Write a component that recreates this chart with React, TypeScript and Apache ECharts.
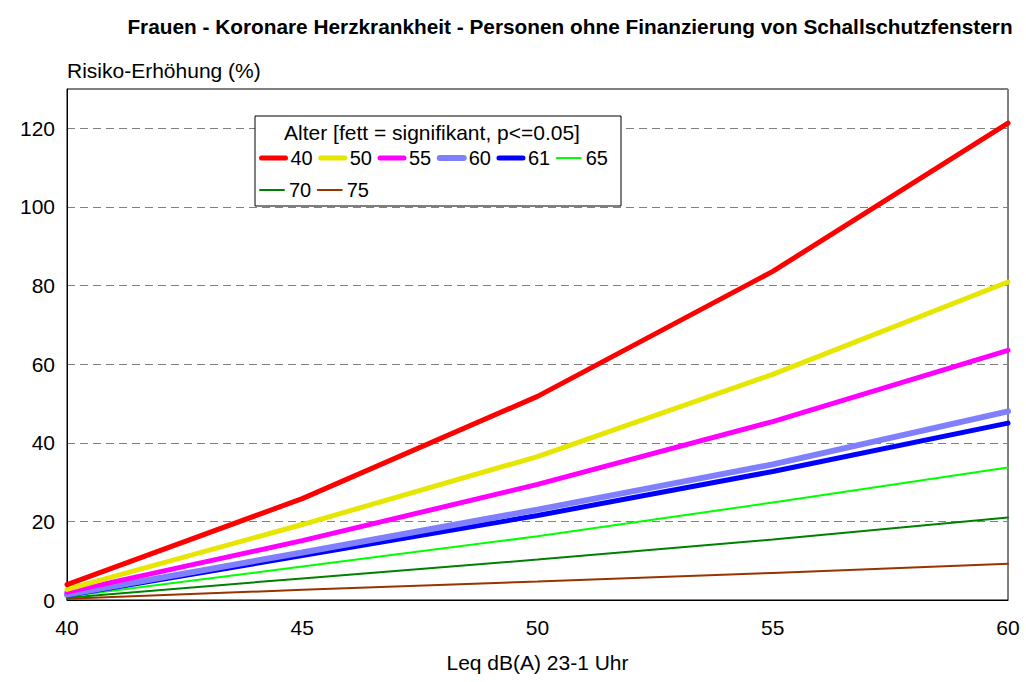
import React, { useEffect, useRef } from "react";
import * as echarts from "echarts";

const xValues = [40, 45, 50, 55, 60];
const ages = ["40", "50", "55", "60", "61", "65", "70", "75"];
const age40 = [3.9, 25.8, 51.8, 83.6, 121.3];
const age50 = [2.7, 19.2, 36.5, 57.4, 80.9];
const age55 = [2.0, 15.1, 29.4, 45.4, 63.5];
const age60 = [1.4, 12.1, 23.0, 34.5, 48.0];
const age61 = [1.2, 11.3, 21.5, 32.7, 45.0];
const age65 = [0.9, 8.5, 16.2, 24.8, 33.7];
const age70 = [0.6, 5.5, 10.3, 15.4, 21.0];
const age75 = [0.3, 2.6, 4.7, 6.9, 9.2];
const seriesValues = [age40, age50, age55, age60, age61, age65, age70, age75];
const colors = ["#ff0000", "#e6e600", "#ff00ff", "#8080ff", "#0000ff", "#00ff00", "#008000", "#993300"];
const widths = [5, 5, 5, 6, 5, 2, 2, 2];

export default function App() {
  const ref = useRef<HTMLDivElement>(null);
  useEffect(() => {
    const chart = echarts.init(ref.current!, null, { renderer: "svg" });
    const font = "Liberation Sans, Arial, sans-serif";
    const legendItems = ages.map((a, i) => ({
      name: a,
      lineStyle: { color: colors[i], width: widths[i], cap: "round" },
    }));
    const legendBase = {
      show: true,
      left: 259,
      width: 362,
      itemWidth: 24,
      itemHeight: 24,
      itemGap: 5.5,
      padding: 0,
      z: 12,
      itemStyle: { opacity: 0 },
      textStyle: { fontFamily: font, fontSize: 20, color: "#000" },
    };
    chart.setOption({
      animation: false,
      backgroundColor: "#ffffff",
      title: {
        text: "Frauen - Koronare Herzkrankheit - Personen ohne Finanzierung von Schallschutzfenstern",
        left: 565,
        top: 11,
        textAlign: "center",
        textStyle: { fontFamily: font, fontSize: 20.8, fontWeight: "bold", color: "#000" },
      },
      grid: {
        left: 67,
        top: 89,
        right: 18,
        bottom: 82,
        show: true,
        borderColor: "#000",
        borderWidth: 1,
        backgroundColor: "transparent",
      },
      graphic: [
        {
          type: "rect",
          shape: { x: 255, y: 116, width: 366, height: 90 },
          style: { fill: "#fff", stroke: "#000", lineWidth: 1 },
          z: 10,
        },
        {
          type: "text",
          x: 432,
          y: 132,
          style: {
            text: "Alter [fett = signifikant, p<=0.05]",
            fontFamily: font,
            fontSize: 21,
            fill: "#000",
            align: "center",
            verticalAlign: "middle",
          },
          z: 11,
        },
      ],
      legend: [
        { ...legendBase, top: 148, data: legendItems.slice(0, 6) },
        { ...legendBase, top: 180, data: legendItems.slice(6) },
      ],
      xAxis: {
        type: "value",
        min: 40,
        max: 60,
        interval: 5,
        name: "Leq dB(A) 23-1 Uhr",
        nameLocation: "middle",
        nameGap: 52,
        nameTextStyle: { fontFamily: font, fontSize: 21, color: "#000" },
        axisLine: { show: true, lineStyle: { color: "#000", width: 1 } },
        axisTick: { show: false },
        splitLine: { show: false },
        axisLabel: { fontFamily: font, fontSize: 21, color: "#000", margin: 17 },
      },
      yAxis: {
        type: "value",
        min: 0,
        max: 130,
        interval: 20,
        name: "Risiko-Erhöhung (%)",
        nameLocation: "end",
        nameGap: 8,
        nameTextStyle: { fontFamily: font, fontSize: 21, color: "#000", align: "left" },
        axisLine: { show: true, lineStyle: { color: "#000", width: 1 } },
        axisTick: { show: false },
        splitLine: { show: true, lineStyle: { color: "#808080", type: [8, 5], width: 1 } },
        axisLabel: { fontFamily: font, fontSize: 21, color: "#000", margin: 12, showMaxLabel: false },
      },
      series: ages.map((a, i) => ({
        name: a,
        type: "line",
        symbol: "none",
        data: xValues.map((x, j) => [x, seriesValues[i][j]]),
        color: colors[i],
        lineStyle: { color: colors[i], width: widths[i], cap: "round" },
        z: 2 + (ages.length - i),
        clip: false,
      })),
    });
    return () => chart.dispose();
  }, []);
  return <div ref={ref} style={{ position: "fixed", left: 0, top: 0, width: 1026, height: 682 }} />;
}
